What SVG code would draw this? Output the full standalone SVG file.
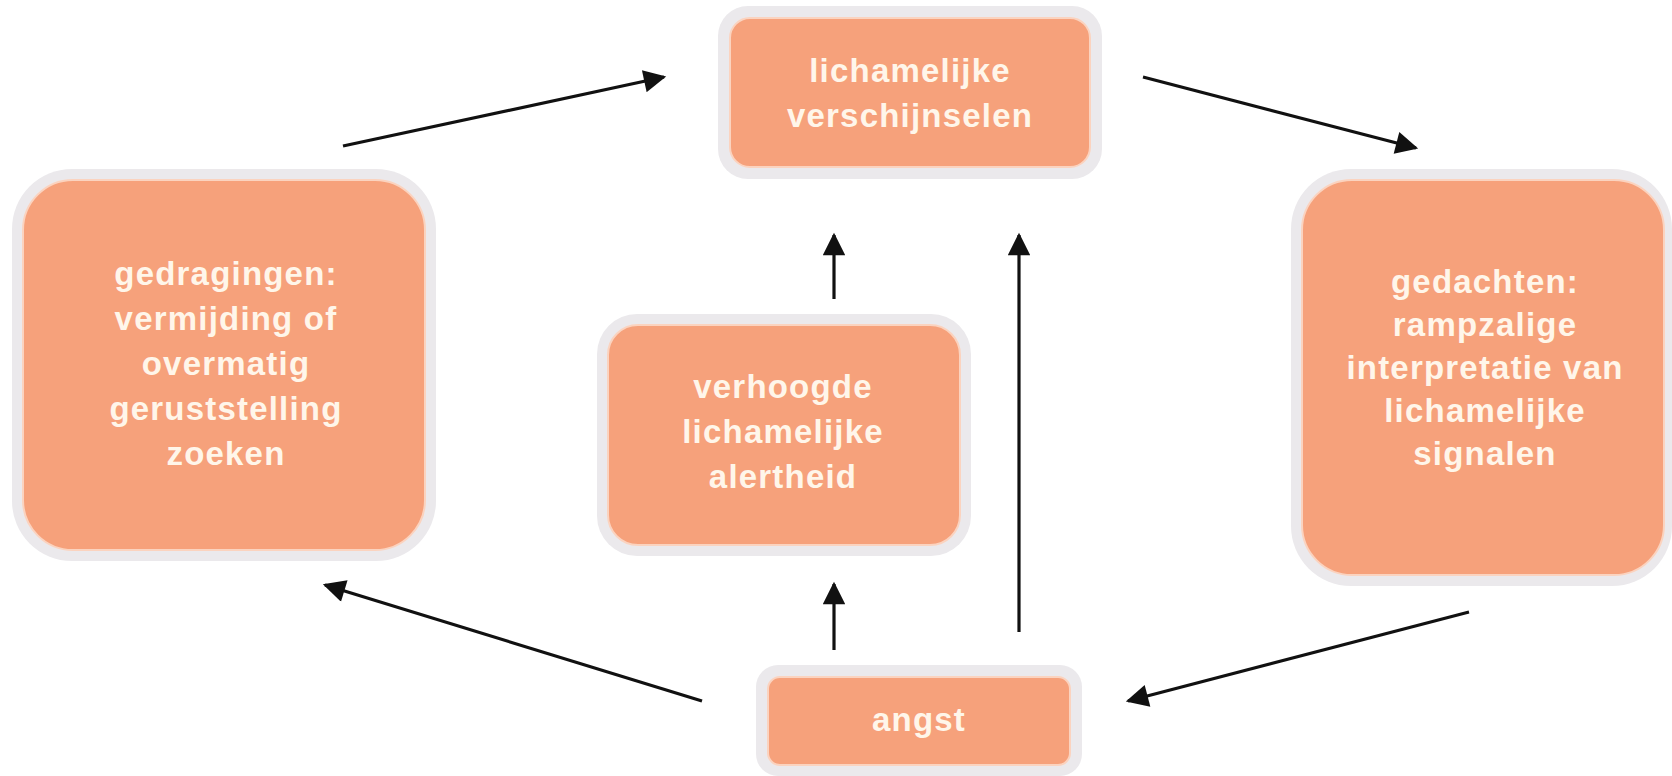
<svg xmlns="http://www.w3.org/2000/svg" width="1672" height="776" viewBox="0 0 1672 776">
<style>
.halo{fill:#ebe9ec}
.box{fill:#f6a17b;stroke:#fbd3bf;stroke-width:2}
.t{font-family:"Liberation Sans",Arial,sans-serif;font-weight:bold;font-size:33px;letter-spacing:1.2px;fill:#fff6ea;text-anchor:middle}
.c{stroke:#111;stroke-width:3.2;fill:none;marker-end:url(#ah)}
</style>
<defs>
<marker id="ah" viewBox="0 0 10 10" refX="9" refY="5" markerWidth="7.5" markerHeight="7" markerUnits="strokeWidth" orient="auto">
<path d="M0,0 L10,5 L0,10 z" fill="#111"/>
</marker>
</defs>
<rect width="1672" height="776" fill="#ffffff"/>
<g id="lichamelijke-verschijnselen">
<rect class="halo" x="718" y="6" width="384" height="173" rx="30"/>
<rect class="box" x="730" y="18" width="360" height="149" rx="20"/>
<text class="t" x="910" y="82">lichamelijke</text>
<text class="t" x="910" y="127">verschijnselen</text>
</g>
<g id="gedragingen">
<rect class="halo" x="12" y="169" width="424" height="392" rx="60"/>
<rect class="box" x="23" y="180" width="402" height="370" rx="50"/>
<text class="t" x="226" y="285">gedragingen:</text>
<text class="t" x="226" y="330">vermijding of</text>
<text class="t" x="226" y="375">overmatig</text>
<text class="t" x="226" y="420">geruststelling</text>
<text class="t" x="226" y="465">zoeken</text>
</g>
<g id="gedachten">
<rect class="halo" x="1291" y="169" width="381" height="417" rx="60"/>
<rect class="box" x="1302" y="180" width="362" height="395" rx="50"/>
<text class="t" x="1485" y="293">gedachten:</text>
<text class="t" x="1485" y="336">rampzalige</text>
<text class="t" x="1485" y="379">interpretatie van</text>
<text class="t" x="1485" y="422">lichamelijke</text>
<text class="t" x="1485" y="465">signalen</text>
</g>
<g id="verhoogde-alertheid">
<rect class="halo" x="597" y="314" width="374" height="242" rx="40"/>
<rect class="box" x="608" y="325" width="352" height="220" rx="30"/>
<text class="t" x="783" y="398">verhoogde</text>
<text class="t" x="783" y="443">lichamelijke</text>
<text class="t" x="783" y="488">alertheid</text>
</g>
<g id="angst">
<rect class="halo" x="756" y="665" width="326" height="111" rx="22"/>
<rect class="box" x="768" y="677" width="302" height="88" rx="12"/>
<text class="t" x="919" y="731">angst</text>
</g>
<g id="connectors">
<line class="c" x1="343" y1="146" x2="664" y2="77"/>
<line class="c" x1="1143" y1="77" x2="1416" y2="148"/>
<line class="c" x1="834" y1="299" x2="834" y2="235"/>
<line class="c" x1="834" y1="650" x2="834" y2="584"/>
<line class="c" x1="1019" y1="632" x2="1019" y2="235"/>
<line class="c" x1="1469" y1="612" x2="1128" y2="701"/>
<line class="c" x1="702" y1="701" x2="325" y2="585"/>
</g>
</svg>
